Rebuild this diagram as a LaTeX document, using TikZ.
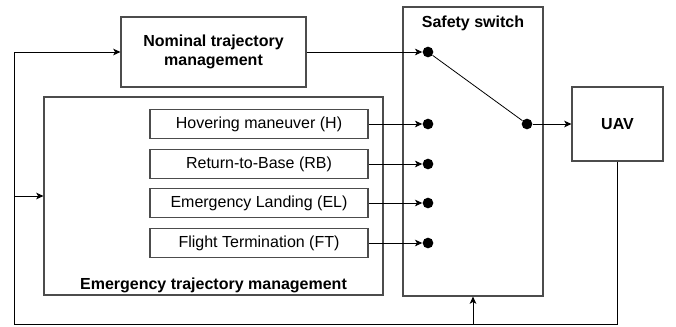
\documentclass[tikz,border=0pt]{standalone}
\usepackage{fontspec}
\setmainfont{Liberation Sans}
\usetikzlibrary{positioning, arrows.meta}

\begin{document}
\begin{tikzpicture}[
    x=0.75pt, y=-0.75pt,
    ->, >={Stealth[length=5.5pt,width=5pt,inset=1.5pt]}, line width=0.6pt,
    every node/.style={font=\fontsize{12}{14}\selectfont},
    block/.style={draw=black!70, line width=0.8pt, inner sep=0pt, align=center},
    subbox/.style={block, minimum width=163.5pt, minimum height=21.75pt},
    dot/.style={circle, fill=black, inner sep=0pt, minimum size=8pt}
]
    \useasboundingbox (0,0) rectangle (676,326);

    % Blocks
    \node[block, minimum width=138.75pt, minimum height=52.5pt, font=\fontsize{12}{14}\selectfont\bfseries]
        (nom) at (213.5,52) {Nominal trajectory\\management};
    \node[block, minimum width=254.25pt, minimum height=148.5pt] (emg) at (213.5,196) {};
    \node[font=\fontsize{12}{14}\selectfont\bfseries] (emglbl) at (213.5,285) {Emergency trajectory management};

    % Emergency modes
    \node[subbox] (hov) at (259,124) {Hovering maneuver (H)};
    \node[subbox] (rtb) at (259,164) {Return-to-Base (RB)};
    \node[subbox] (eml) at (259,203) {Emergency Landing (EL)};
    \node[subbox] (flt) at (259,243) {Flight Termination (FT)};

    % Switch and UAV
    \node[block, minimum width=105pt, minimum height=216.75pt] (sw) at (473,151.5) {};
    \node[font=\fontsize{12}{14}\selectfont\bfseries] (swlbl) at (473,23) {Safety switch};
    \node[block, minimum width=68.25pt, minimum height=55.5pt, font=\fontsize{12}{14}\selectfont\bfseries]
        (uav) at (617.5,124) {UAV};

    % Switch contacts
    \node[dot] (d1) at (428,52) {};
    \node[dot] (d2) at (428,124) {};
    \node[dot] (d3) at (428,164) {};
    \node[dot] (d4) at (428,203) {};
    \node[dot] (d5) at (428,243) {};
    \node[dot] (dout) at (527,124) {};

    % Inputs of the switch
    \draw (nom.east) -- (d1);
    \draw (hov.east) -- (d2);
    \draw (rtb.east) -- (d3);
    \draw (eml.east) -- (d4);
    \draw (flt.east) -- (d5);

    % Lever and output
    \draw[-] (d1) -- (dout);
    \draw (dout) -- (uav.west);

    % Feedback loop
    \coordinate (fbl) at (14,324);
    \draw (uav.south) |- (fbl) |- (nom.west);
    \draw (fbl |- emg.west) -- (emg.west);
    \draw (sw.south |- fbl) -- (sw.south);

\end{tikzpicture}
\end{document}
